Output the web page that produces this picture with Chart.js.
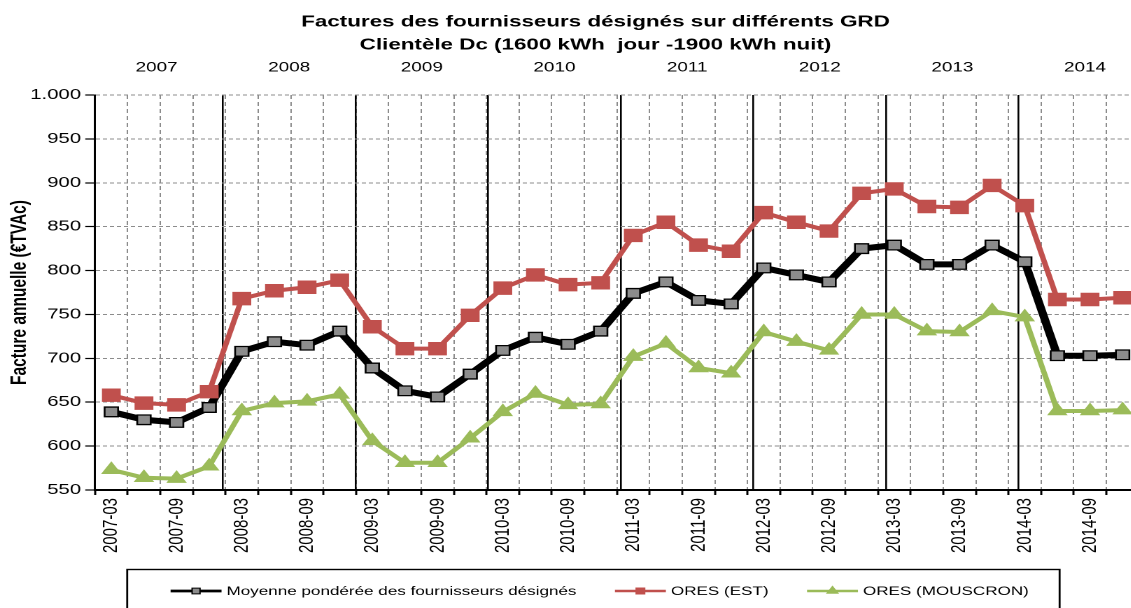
<!DOCTYPE html>
<html>
<head>
<meta charset="utf-8">
<script src="https://cdn.jsdelivr.net/npm/chart.js@4.4.1/dist/chart.umd.min.js"></script>
<style>
html,body{margin:0;padding:0;overflow:hidden;background:#fff}
canvas{display:block}
</style>
</head>
<body>
<canvas id="c" width="851" height="608" style="width:1191px;height:608px"></canvas>
<script>
// ---- data ----
const categories = [
  '2007-03','2007-06','2007-09','2007-12',
  '2008-03','2008-06','2008-09','2008-12',
  '2009-03','2009-06','2009-09','2009-12',
  '2010-03','2010-06','2010-09','2010-12',
  '2011-03','2011-06','2011-09','2011-12',
  '2012-03','2012-06','2012-09','2012-12',
  '2013-03','2013-06','2013-09','2013-12',
  '2014-03','2014-06','2014-09','2014-12'
];
const years = [2007, 2008, 2009, 2010, 2011, 2012, 2013, 2014];
const moyenne = [639, 630, 627, 644, 708, 719, 715, 731, 689, 663, 656, 682, 709, 724, 716, 731,
                 774, 787, 766, 762, 803, 795, 787, 825, 829, 807, 807, 829, 810, 703, 703, 704];
const oresEst = [658, 649, 647, 662, 768, 777, 781, 789, 736, 711, 711, 749, 780, 795, 784, 786,
                 840, 855, 829, 822, 866, 855, 845, 888, 893, 873, 872, 897, 874, 767, 767, 769];
const oresMouscron = [573, 564, 563, 577, 640, 649, 651, 659, 606, 581, 581, 609, 639, 660, 647, 648,
                      702, 717, 689, 683, 730, 719, 709, 750, 750, 731, 730, 754, 747, 640, 640, 641];
const seriesNames = ['Moyenne pondérée des fournisseurs désignés', 'ORES (EST)', 'ORES (MOUSCRON)'];
const titleLines = ['Factures des fournisseurs désignés sur différents GRD',
                    'Clientèle Dc (1600 kWh  jour -1900 kWh nuit)'];
const yAxisTitle = 'Facture annuelle (€TVAc)';
const yMin = 550, yMax = 1000, yStep = 50;

const FONT = "'Liberation Sans', Arial, Helvetica, sans-serif";

function fmtThousands(v) {
  return String(v).replace(/\B(?=(\d{3})+(?!\d))/g, '.');
}

// custom boxed legend (line sample + marker + label)
const boxLegend = {
  id: 'boxLegend',
  afterDraw(chart) {
    const ctx = chart.ctx;
    const ds = chart.data.datasets;
    ctx.save();
    ctx.font = '12.2px ' + FONT;
    ctx.textBaseline = 'middle';
    ctx.textAlign = 'left';
    const sample = 36.4, gapText = 3.6, gapItem = 27.5;
    const widths = ds.map(d => ctx.measureText(d.label).width);
    const total = widths.reduce((s, w) => s + sample + gapText + w, 0) + gapItem * (ds.length - 1);
    let x = chart.width / 2 - total / 2 + 3;
    const top = 569.5, cy = 591;
    ctx.strokeStyle = '#000';
    ctx.lineWidth = 1.4;
    ctx.strokeRect(x - 31, top, total + 53, 60);
    ds.forEach((d, i) => {
      ctx.beginPath();
      ctx.strokeStyle = d.borderColor;
      ctx.lineWidth = d.legendLineWidth;
      ctx.moveTo(x, cy);
      ctx.lineTo(x + sample, cy);
      ctx.stroke();
      ctx.fillStyle = d.pointBackgroundColor;
      ctx.strokeStyle = d.pointBorderColor;
      ctx.lineWidth = 1;
      Chart.helpers.drawPoint(ctx, {pointStyle: d.pointStyle, radius: d.legendRadius, borderWidth: 1, rotation: 0}, x + sample / 2, cy);
      ctx.fillStyle = '#000';
      ctx.fillText(d.label, x + sample + gapText, cy + 0.5);
      x += sample + gapText + widths[i] + gapItem;
    });
    ctx.restore();
  }
};

const canvas = document.getElementById('c');
const chart = new Chart(canvas, {
  type: 'line',
  data: {
    labels: categories,
    datasets: [
      {
        label: seriesNames[0], data: moyenne,
        borderColor: '#000000', borderWidth: 6, tension: 0,
        pointStyle: 'rect', pointRadius: 6.8,
        pointBackgroundColor: '#8c8c8c', pointBorderColor: '#000000', pointBorderWidth: 1.3,
        legendLineWidth: 2.8, legendRadius: 4, order: 2
      },
      {
        label: seriesNames[1], data: oresEst,
        borderColor: '#c0504d', borderWidth: 4, tension: 0,
        pointStyle: 'rect', pointRadius: 9.5,
        pointBackgroundColor: '#c0504d', pointBorderColor: '#c0504d', pointBorderWidth: 0,
        legendLineWidth: 2.4, legendRadius: 4.3, order: 1
      },
      {
        label: seriesNames[2], data: oresMouscron,
        borderColor: '#9bbb59', borderWidth: 4, tension: 0,
        pointStyle: 'triangle', pointRadius: 8.5,
        pointBackgroundColor: '#9bbb59', pointBorderColor: '#9bbb59', pointBorderWidth: 0,
        legendLineWidth: 2.4, legendRadius: 4.5, order: 0
      }
    ]
  },
  options: {
    responsive: false,
    animation: false,
    devicePixelRatio: 2,
    layout: { padding: { left: 0, right: 0, top: 0, bottom: 55 }, autoPadding: false },
    plugins: {
      legend: { display: false },
      tooltip: { enabled: false },
      title: {
        display: true,
        text: titleLines,
        color: '#000',
        font: { family: FONT, size: 16, weight: 'bold', lineHeight: 1.4375 },
        padding: { top: 10.5, bottom: 3.3 }
      }
    },
    scales: {
      x: {
        type: 'category',
        position: 'bottom',
        offset: true,
        grid: { offset: true, color: '#8c8c8c', lineWidth: 1, tickLength: 5, tickColor: '#000', tickWidth: 1.5, drawOnChartArea: true },
        border: { display: true, color: '#000', width: 2, dash: [4, 3] },
        ticks: {
          autoSkip: false, minRotation: 90, maxRotation: 90, padding: 3, color: '#000',
          font: { family: FONT, size: 15 },
          callback: function (val, idx) { return idx % 2 === 0 ? categories[idx] : ''; }
        },
        afterFit: (s) => { s.height = 63; }
      },
      x2: {
        type: 'linear',
        axis: 'x',
        position: 'top',
        min: 2007.0355,
        max: 2014.907,
        bounds: 'data',
        afterBuildTicks: (s) => { s.ticks = years.map(y => ({ value: y + 0.5 })); },
        grid: { offset: true, color: '#000', lineWidth: 1.3, drawTicks: false, drawOnChartArea: true },
        border: { display: false, dash: [] },
        ticks: {
          autoSkip: false, maxRotation: 0, minRotation: 0, padding: 19, color: '#000',
          font: { family: FONT, size: 13.5 },
          callback: (v, i) => String(years[i])
        },
        afterFit: (s) => { s.height = 35.2; }
      },
      y: {
        type: 'linear',
        position: 'left',
        min: yMin, max: yMax,
        grid: { color: '#8c8c8c', lineWidth: 1, tickLength: 7, tickColor: '#000', tickWidth: 1.2 },
        border: { display: true, color: '#000', width: 1.5, dash: [3, 2] },
        ticks: {
          stepSize: yStep, padding: 3, color: '#000',
          font: { family: FONT, size: 14.5 },
          callback: (v) => fmtThousands(v)
        },
        title: {
          display: true, text: yAxisTitle, color: '#000',
          font: { family: FONT, size: 15.5, weight: 'bold' },
          padding: { top: 5, bottom: 0 }
        },
        afterFit: (s) => { s.width = 67.9; }
      },
      yR: {
        type: 'linear',
        position: 'right',
        display: true,
        grid: { display: false, drawTicks: false },
        border: { display: false },
        ticks: { display: false },
        afterFit: (s) => { s.width = 37.2; }
      }
    }
  },
  plugins: [boxLegend]
});
canvas.style.width = '1191px';
canvas.style.height = '608px';
</script>
</body>
</html>
